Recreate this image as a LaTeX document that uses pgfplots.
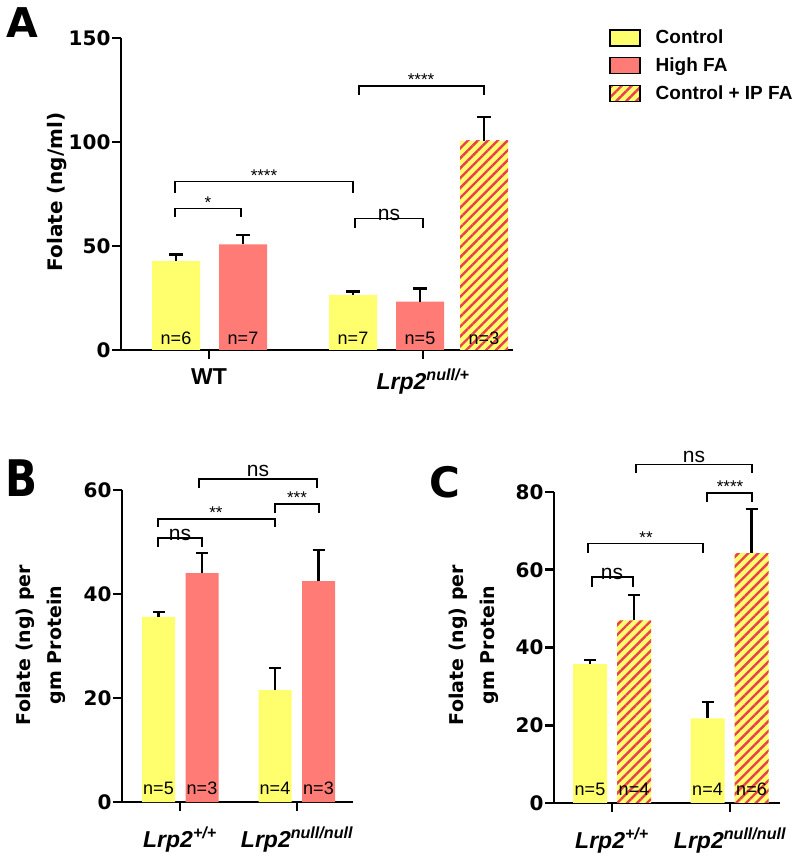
\documentclass[border=0pt]{standalone}
\usepackage{pgfplots}
\pgfplotsset{compat=1.18}
\usetikzlibrary{patterns.meta}
\usepackage{fontspec}
\setmainfont{Liberation Sans}
\newfontfamily\djv{DejaVu Sans}
\definecolor{cy}{HTML}{FFFF6E}
\definecolor{cr}{HTML}{FF7B76}
\definecolor{cs}{HTML}{E8404E}
\pgfplotsset{
  panel/.style={
    scale only axis, anchor=south west, clip=false,
    axis lines=left, axis line style={line width=2.6pt,-},
    tick align=outside, major tick length=9pt,
    tick style={line width=2.6pt, black},
    ymin=0, xmin=0,
    /pgf/number format/assume math mode=true,
    yticklabel style={font=\djv\bfseries\fontsize{20}{20}\selectfont, xshift=2pt},
    xticklabel style={font=\bfseries\fontsize{23}{23}\selectfont, yshift=-6pt},
  },
  cbar/.style={ybar, bar shift=0pt, draw=none, fill=#1},
  hbar/.style={ybar, bar shift=0pt, draw=none, fill=cy,
     postaction={pattern={Lines[angle=45,distance=7pt,line width=2.4pt]}, pattern color=cs}},
  ebar/.style={draw=none, mark=none, forget plot,
     error bars/.cd, y dir=plus, y explicit,
     error bar style={line width=2.4pt, draw=black, solid},
     error mark options={rotate=90, line width=2.4pt, draw=black, mark size=#1}},
}
\tikzset{
  br/.style={line width=1.5pt, black},
  nlab/.style={anchor=base, font=\fontsize{18}{18}\selectfont, inner sep=0pt},
  sig/.style={anchor=south, font=\fontsize{21}{21}\selectfont, inner sep=1pt},
  star/.style={anchor=south, font=\fontsize{17}{17}\selectfont, inner sep=0pt},
}
\begin{document}
\begin{tikzpicture}
\useasboundingbox (0pt,0pt) rectangle (800pt,856pt);
% ---------------- Panel A ----------------
\begin{axis}[panel, at={(121pt,506pt)}, width=392pt, height=312pt,
  xmax=392, ymax=150, ytick={0,50,100,150},
  xtick={88,302}, xticklabels={WT, \itshape Lrp2\textsuperscript{null/+}},
  legend style={at={(1.245,1.032)}, anchor=north west, draw=none, fill=none, inner sep=0pt,
     font=\bfseries\fontsize{19}{22}\selectfont, row sep=8.5pt, legend cell align=left,
     /tikz/every odd column/.append style={column sep=13pt}},
  legend image code/.code={\draw[#1, draw=black, line width=1.5pt] (0pt,-8pt) rectangle (30pt,8pt);},
]
\addplot[cbar=cy, bar width=48, forget plot] coordinates {(55,42.8) (232,26.4)};
\addplot[cbar=cr, bar width=48, forget plot] coordinates {(122,50.8) (299,23.2)};
\addplot[hbar, bar width=48, forget plot] coordinates {(363,100.6)};
\addplot[ebar=7pt] coordinates {(55,42.8) +- (0,3.2) (232,26.4) +- (0,1.7) (122,50.8) +- (0,4.5) (299,23.2) +- (0,6.4) (363,100.6) +- (0,11.3)};
\addlegendimage{fill=cy}\addlegendentry{Control}
\addlegendimage{fill=cr}\addlegendentry{High FA}
\addlegendimage{fill=cy, postaction={pattern={Lines[angle=45,distance=7pt,line width=2.4pt]}, pattern color=cs}}\addlegendentry{Control + IP FA}
\node[nlab] at (axis cs:55,0) [yshift=5pt] {n=6};
\node[nlab] at (axis cs:122,0) [yshift=5pt] {n=7};
\node[nlab] at (axis cs:232,0) [yshift=5pt] {n=7};
\node[nlab] at (axis cs:299,0) [yshift=5pt] {n=5};
\node[nlab] at (axis cs:363,0) [yshift=5pt] {n=3};
\draw[br] (axis cs:54,64) |- (axis cs:120,68) -- (axis cs:120,64);
\node[star] at (axis cs:87,68) {*};
\draw[br] (axis cs:54,75.5) |- (axis cs:232,81) -- (axis cs:232,75.5);
\node[star] at (axis cs:143,81) {****};
\draw[br] (axis cs:234,58.6) |- (axis cs:302,63.3) -- (axis cs:302,58.6);
\node[sig, inner sep=0pt] at (axis cs:268,62) {ns};
\draw[br] (axis cs:238,122.6) |- (axis cs:363,127) -- (axis cs:363,122.6);
\node[star] at (axis cs:300,127) {****};
\end{axis}
% ---------------- Panel B ----------------
\begin{axis}[panel, at={(122pt,54pt)}, width=231pt, height=312pt,
  xmax=231, ymax=60, ytick={0,20,40,60},
  xticklabel style={yshift=-6pt},
  xtick={58,175}, xticklabels={\itshape Lrp2\textsuperscript{+/+}, \itshape Lrp2\textsuperscript{null/null}},
]
\addplot[cbar=cy, bar width=33] coordinates {(36.5,35.6) (153,21.5)};
\addplot[cbar=cr, bar width=33] coordinates {(80,44.0) (196.5,42.5)};
\addplot[ebar=6pt] coordinates {(36.5,35.6) +- (0,0.9) (153,21.5) +- (0,4.3) (80,44.0) +- (0,3.9) (196.5,42.5) +- (0,6.0)};
\node[nlab] at (axis cs:36.5,0) [yshift=7pt] {n=5};
\node[nlab] at (axis cs:80,0) [yshift=7pt] {n=3};
\node[nlab] at (axis cs:153,0) [yshift=7pt] {n=4};
\node[nlab] at (axis cs:196.5,0) [yshift=7pt] {n=3};
\draw[br] (axis cs:36,49) |- (axis cs:80,50.8) -- (axis cs:80,49);
\node[sig, inner sep=0pt] at (axis cs:58,50.3) {ns};
\draw[br] (axis cs:36,52.9) |- (axis cs:153,54.4) -- (axis cs:153,52.9);
\node[star] at (axis cs:94,54.4) {**};
\draw[br] (axis cs:153,55.6) |- (axis cs:197,57.3) -- (axis cs:197,55.6);
\node[star] at (axis cs:175,57.3) {***};
\draw[br] (axis cs:77,60.4) |- (axis cs:195,62.1) -- (axis cs:195,60.4);
\node[sig] at (axis cs:136,62.3) {ns};
\end{axis}
% ---------------- Panel C ----------------
\begin{axis}[panel, at={(554pt,53pt)}, width=226pt, height=311pt,
  xmax=226, ymax=80, ytick={0,20,40,60,80},
  xticklabel style={yshift=-6pt},
  xtick={58,176}, xticklabels={\itshape Lrp2\textsuperscript{+/+}, \itshape Lrp2\textsuperscript{null/null}},
]
\addplot[cbar=cy, bar width=34] coordinates {(36,35.7) (153.5,21.8)};
\addplot[hbar, bar width=34] coordinates {(80,47.0) (197.5,64.3)};
\addplot[ebar=6pt] coordinates {(36,35.7) +- (0,1.1) (153.5,21.8) +- (0,4.2) (80,47.0) +- (0,6.5) (197.5,64.3) +- (0,11.3)};
\node[nlab] at (axis cs:36,0) [yshift=7pt] {n=5};
\node[nlab] at (axis cs:80,0) [yshift=7pt] {n=4};
\node[nlab] at (axis cs:153.5,0) [yshift=7pt] {n=4};
\node[nlab] at (axis cs:197.5,0) [yshift=7pt] {n=6};
\draw[br] (axis cs:38,55.5) |- (axis cs:79,58.1) -- (axis cs:79,55.5);
\node[sig, inner sep=0pt] at (axis cs:58,57.5) {ns};
\draw[br] (axis cs:34,64.3) |- (axis cs:149,66.8) -- (axis cs:149,64.3);
\node[star] at (axis cs:92,66.8) {**};
\draw[br] (axis cs:153,77.4) |- (axis cs:198,79.7) -- (axis cs:198,77.4);
\node[star] at (axis cs:176,79.7) {****};
\draw[br] (axis cs:82,84.8) |- (axis cs:198,87.1) -- (axis cs:198,84.8);
\node[sig] at (axis cs:140,87.3) {ns};
\end{axis}
% ---------------- labels ----------------
\node[rotate=90, font=\djv\bfseries\fontsize{20}{22}\selectfont] at (57pt,664pt) {Folate (ng/ml)};
\node[rotate=90, align=center, font=\djv\bfseries\fontsize{19}{31}\selectfont] at (41pt,211pt) {Folate (ng) per\\gm Protein};
\node[rotate=90, align=center, font=\djv\bfseries\fontsize{19}{31}\selectfont] at (474pt,211pt) {Folate (ng) per\\gm Protein};
\node[font=\djv\bfseries\fontsize{41}{41}\selectfont] at (22pt,833pt) {A};
\node[font=\djv\bfseries\fontsize{42}{42}\selectfont, yscale=1.2] at (22pt,378pt) {B};
\node[font=\djv\bfseries\fontsize{42}{42}\selectfont] at (445pt,374pt) {C};
\end{tikzpicture}
\end{document}
